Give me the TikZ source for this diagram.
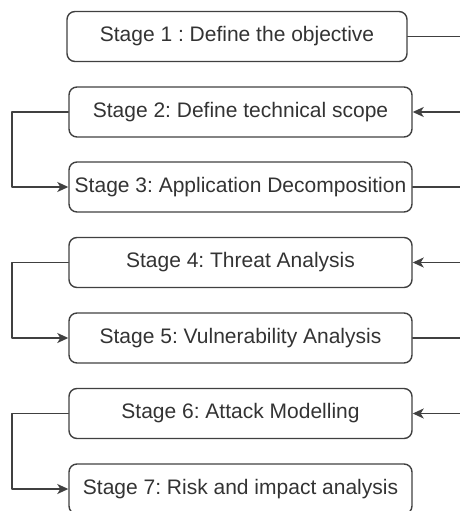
\documentclass[tikz,border=0pt]{standalone}
\usepackage{fontspec}
\setmainfont{Liberation Sans}
\usepackage{tikz}
\usetikzlibrary{arrows.meta}
\usetikzlibrary{positioning}
\definecolor{boxgray}{rgb}{0.25,0.25,0.25}
\definecolor{textgray}{rgb}{0.2,0.2,0.2}

\tikzset{
  stagebox/.style={draw=boxgray, line width=1.4pt, rounded corners=8pt,
    minimum height=50pt, inner sep=0pt, text=textgray,
    font=\fontsize{21}{25}\selectfont},
  link/.style={draw=boxgray, line width=1.5pt}
}

\begin{document}
\frenchspacing
\begin{tikzpicture}[line cap=round,line join=round,>={Stealth[length=11pt,width=10pt,inset=3pt]},x=1pt,y=1pt]
\useasboundingbox (0,0) rectangle (460,-511);
\clip (0,0) rectangle (460,-511);
\node[stagebox, minimum width=340pt] (s1) at (237,-36.5) {Stage 1 : Define the objective};
\node[stagebox, minimum width=343pt] (s2) at (240.5,-112) {Stage 2: Define technical scope};
\node[stagebox, minimum width=343pt] (s3) at (240.5,-187) {Stage 3: Application Decomposition};
\node[stagebox, minimum width=343pt] (s4) at (240.5,-262.5) {Stage 4: Threat Analysis};
\node[stagebox, minimum width=343pt] (s5) at (240.5,-338) {Stage 5: Vulnerability Analysis};
\node[stagebox, minimum width=343pt] (s6) at (240.5,-413.5) {Stage 6: Attack Modelling};
\node[stagebox, minimum width=343pt] (s7) at (240.5,-489) {Stage 7: Risk and impact analysis};
% free ends on the right
\coordinate (r1) at (462,-36.5);
\coordinate (r2) at (462,-112);
\coordinate (r3) at (462,-187);
\coordinate (r4) at (462,-262.5);
\coordinate (r5) at (462,-338);
\coordinate (r6) at (462,-413.5);
\draw[link] (s1.east) -- (r1);
\draw[link,->] (r2) -- (s2.east);
\draw[link] (s3.east) -- (r3);
\draw[link,->] (r4) -- (s4.east);
\draw[link] (s5.east) -- (r5);
\draw[link,->] (r6) -- (s6.east);
% loops on the left
\draw[link,->] (s2.west) -- ++(-56.5,0) |- (s3.west);
\draw[link,->] (s4.west) -- ++(-56.5,0) |- (s5.west);
\draw[link,->] (s6.west) -- ++(-56.5,0) |- (s7.west);
\end{tikzpicture}
\end{document}
